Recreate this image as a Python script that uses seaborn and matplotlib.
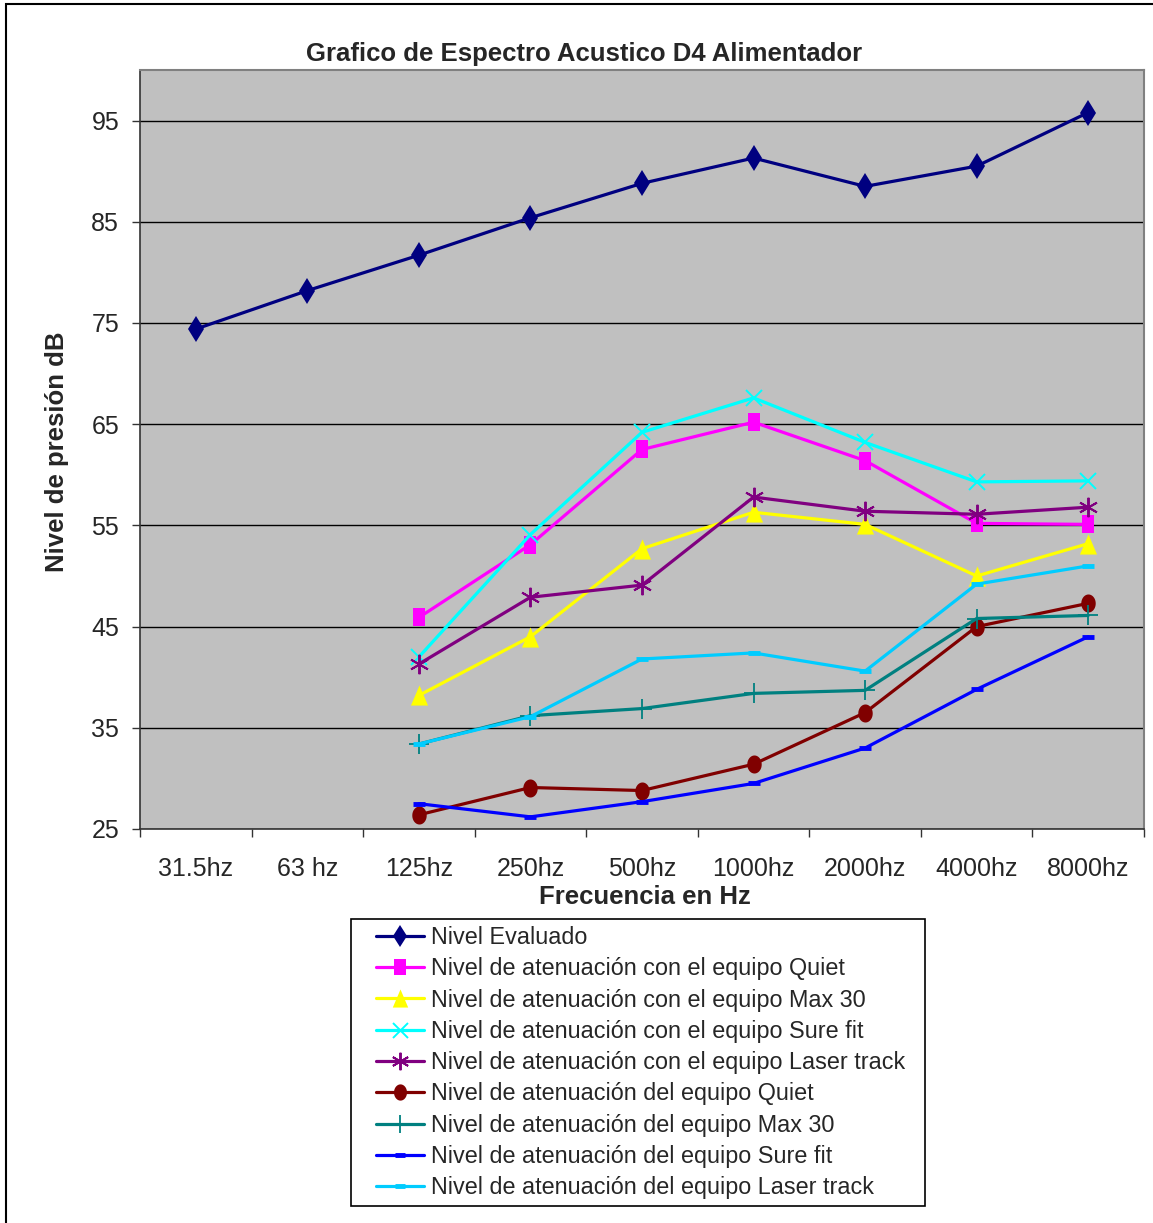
import numpy as np
import pandas as pd
import matplotlib
matplotlib.use("Agg")
import matplotlib.pyplot as plt
import seaborn as sns
from matplotlib.patches import Rectangle

nan = np.nan

# Octave bands (x categories)
bandas = ["31.5hz", "63 hz", "125hz", "250hz", "500hz", "1000hz", "2000hz", "4000hz", "8000hz"]

# Sound pressure levels in dB per band
nivel_evaluado = [74.4, 78.2, 81.7, 85.4, 88.8, 91.3, 88.5, 90.5, 95.8]
con_quiet = [nan, nan, 45.9, 53.1, 62.5, 65.2, 61.4, 55.2, 55.1]
con_max30 = [nan, nan, 38.2, 44.0, 52.7, 56.3, 55.1, 50.0, 53.2]
con_surefit = [nan, nan, 42.0, 54.1, 64.2, 67.6, 63.2, 59.3, 59.4]
con_lasertrack = [nan, nan, 41.3, 47.9, 49.1, 57.8, 56.4, 56.1, 56.8]
del_quiet = [nan, nan, 26.4, 29.1, 28.8, 31.4, 36.5, 45.0, 47.3]
del_max30 = [nan, nan, 33.4, 36.2, 36.9, 38.4, 38.7, 45.8, 46.1]
del_surefit = [nan, nan, 27.5, 26.2, 27.7, 29.5, 33.0, 38.8, 44.0]
del_lasertrack = [nan, nan, 33.4, 36.1, 41.8, 42.4, 40.6, 49.2, 51.0]

etiquetas = [
    "Nivel Evaluado",
    "Nivel de atenuación con el equipo Quiet",
    "Nivel de atenuación con el equipo Max 30",
    "Nivel de atenuación con el equipo Sure fit",
    "Nivel de atenuación con el equipo Laser track",
    "Nivel de atenuación del equipo Quiet",
    "Nivel de atenuación del equipo Max 30",
    "Nivel de atenuación del equipo Sure fit",
    "Nivel de atenuación del equipo Laser track",
]

sns.set_style("white")
plt.rcParams["font.family"] = ["Liberation Sans", "DejaVu Sans"]

W, H = 1153, 1223
fig = plt.figure(figsize=(W / 100, H / 100), dpi=100)
fig.patch.set_facecolor("white")

ax = fig.add_axes([140 / W, 1 - 829 / H, 1004 / W, 759 / H])
ax.set_facecolor("#C0C0C0")

x = np.arange(len(bandas))

# tall marker shapes
square_tall = [(-0.68, -1), (0.68, -1), (0.68, 1), (-0.68, 1), (-0.68, -1)]
t = np.linspace(0, 2 * np.pi, 40)
ellipse_tall = list(zip(0.8 * np.cos(t), np.sin(t)))
tri_tall = [(-0.85, -1), (0.85, -1), (0, 1), (-0.85, -1)]

estilos = [
    (nivel_evaluado, "#000080", dict(marker="d", markersize=13, markeredgewidth=0)),
    (con_quiet, "#FF00FF", dict(marker=square_tall, markersize=13.5, markeredgewidth=0)),
    (con_max30, "#FFFF00", dict(marker=tri_tall, markersize=14.5, markeredgewidth=0)),
    (con_surefit, "#00FFFF", dict(marker="x", markersize=12, markeredgewidth=1.4)),
    (con_lasertrack, "#800080", dict(marker=(6, 2, 0), markersize=14, markeredgewidth=1.4)),
    (del_quiet, "#800000", dict(marker=ellipse_tall, markersize=13, markeredgewidth=0)),
    (del_max30, "#008080", dict(marker="+", markersize=14, markeredgewidth=1.3)),
    (del_surefit, "#0000FF", dict(marker="_", markersize=8, markeredgewidth=3.5)),
    (del_lasertrack, "#00CCFF", dict(marker="_", markersize=8, markeredgewidth=3.5)),
]

for (valores, color, mk), etiqueta in zip(estilos, etiquetas):
    df = pd.DataFrame({"banda": x, "nivel": valores}).dropna()
    sns.lineplot(data=df, x="banda", y="nivel", ax=ax, color=color, linewidth=2.3,
                 markerfacecolor=color, markeredgecolor=color, label=etiqueta,
                 legend=False, sort=False, zorder=3, **mk)

ax.set_xlim(-0.5, 8.5)
ax.set_ylim(25, 100)
ax.set_yticks(np.arange(25, 100, 10))
ax.yaxis.grid(True, color="black", linewidth=1)
ax.xaxis.grid(False)
ax.set_axisbelow(True)

ax.set_xticks(np.arange(-0.5, 9, 1))
ax.set_xticklabels([])
ax.set_xticks(x, labels=bandas, minor=True)
ax.tick_params(axis="x", which="major", direction="out", length=6, width=1,
               color="#333333", bottom=True)
ax.tick_params(axis="x", which="minor", length=0, pad=20, labelsize=18, bottom=True)
ax.tick_params(axis="y", direction="out", length=6, width=1, color="#333333",
               pad=9, labelsize=18, left=True)

for side in ("top", "right"):
    ax.spines[side].set_color("#808080")
    ax.spines[side].set_linewidth(1.5)
for side in ("left", "bottom"):
    ax.spines[side].set_color("#333333")
    ax.spines[side].set_linewidth(1.2)

ax.set_xlabel("Frecuencia en Hz", fontsize=18.5, fontweight="bold")
ax.xaxis.set_label_coords(505 / 1004, -(897 - 829) / 759)
ax.xaxis.label.set_va("center")
ax.set_ylabel("Nivel de presión dB", fontsize=18.5, fontweight="bold")
ax.yaxis.set_label_coords(-(140 - 57) / 1004, (829 - 452) / 759)
ax.yaxis.label.set_va("center")

fig.text(584 / W, 1 - 54 / H, "Grafico de Espectro Acustico D4 Alimentador",
         ha="center", va="center", fontsize=18.5, fontweight="bold")

# legend below the plot, with its own square frame
handles, labels = ax.get_legend_handles_labels()
fig.legend(handles, labels, loc="upper left",
           bbox_to_anchor=(376 / W, 1 - 926 / H), bbox_transform=fig.transFigure,
           frameon=False, borderpad=0, borderaxespad=0, fontsize=16.8,
           handlelength=2.05, handletextpad=0.3, labelspacing=0.355, markerscale=0.9)
fig.patches.append(Rectangle((351 / W, 1 - 1206 / H), 574 / W, 287 / H,
                             transform=fig.transFigure, fill=False,
                             edgecolor="black", linewidth=1.2))

# outer chart border
fig.patches.append(Rectangle((5.5 / W, -0.1), 1.2, 1.1 - 4 / H,
                             transform=fig.transFigure, fill=False,
                             edgecolor="black", linewidth=1.5))

fig.savefig("out.png", dpi=100)
